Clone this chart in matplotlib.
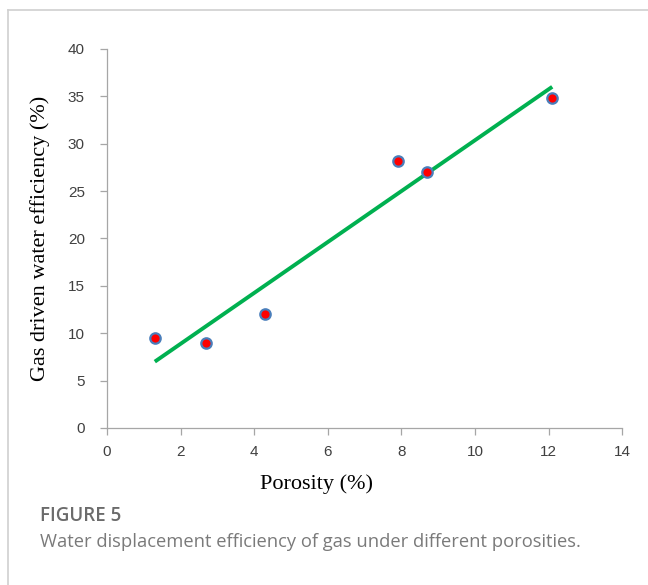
import matplotlib
matplotlib.use("Agg")
import matplotlib.pyplot as plt
from matplotlib.lines import Line2D

# data
porosity = [1.3, 2.7, 4.3, 7.9, 8.7, 12.1]
efficiency = [9.5, 9.0, 12.0, 28.2, 27.0, 34.8]
fit_x = [1.3, 12.1]
fit_y = [7.0, 36.0]

x_ticks = [0, 2, 4, 6, 8, 10, 12, 14]
y_ticks = [0, 5, 10, 15, 20, 25, 30, 35, 40]

fig = plt.figure(figsize=(6.48, 5.85), dpi=100)
ax = fig.add_axes([0.1651, 0.2684, 0.795, 0.648])

ax.plot(fit_x, fit_y, color="#00B050", lw=2.8, solid_capstyle="butt", zorder=2)
ax.plot(porosity, efficiency, "o", ms=7.5, mfc="#FF0000", mec="#4A7EBB", mew=1.6,
        ls="none", zorder=3)

ax.set_xlim(0, 14)
ax.set_ylim(0, 40)
ax.set_xticks(x_ticks)
ax.set_yticks(y_ticks)

for s in ["top", "right"]:
    ax.spines[s].set_visible(False)
for s in ["left", "bottom"]:
    ax.spines[s].set_color("#A6A6A6")
    ax.spines[s].set_linewidth(0.9)
ax.tick_params(colors="#A6A6A6", length=5, width=0.9, labelcolor="#404040",
               labelsize=11)
for lab in ax.get_xticklabels() + ax.get_yticklabels():
    lab.set_family("Liberation Sans")
ax.tick_params(axis="y", pad=11)
ax.tick_params(axis="x", pad=7)

ax.set_xlabel("Porosity (%)", family="Liberation Serif", fontsize=16, labelpad=10)
ax.xaxis.set_label_coords((316 - 107) / 515, -0.122)
ax.set_ylabel("Gas driven water efficiency (%)", family="Liberation Serif",
              fontsize=16, labelpad=13)

# card border (top and left)
fig.add_artist(Line2D([8 / 648, 1], [1 - 10 / 585, 1 - 10 / 585], color="#D0D0D0",
                      lw=1.2, transform=fig.transFigure))
fig.add_artist(Line2D([8 / 648, 8 / 648], [0, 1 - 10 / 585], color="#D0D0D0",
                      lw=1.2, transform=fig.transFigure))

fig.text(40 / 648, 1 - 516 / 585, "FIGURE 5", family="Open Sans", fontsize=13.5,
         color="#6b6b6b", va="center", fontweight="semibold")
fig.text(40 / 648, 1 - 542 / 585,
         "Water displacement efficiency of gas under different porosities.",
         family="Open Sans", fontsize=13.2, color="#7a7a7a", va="center")

fig.savefig("out.png", dpi=100)
